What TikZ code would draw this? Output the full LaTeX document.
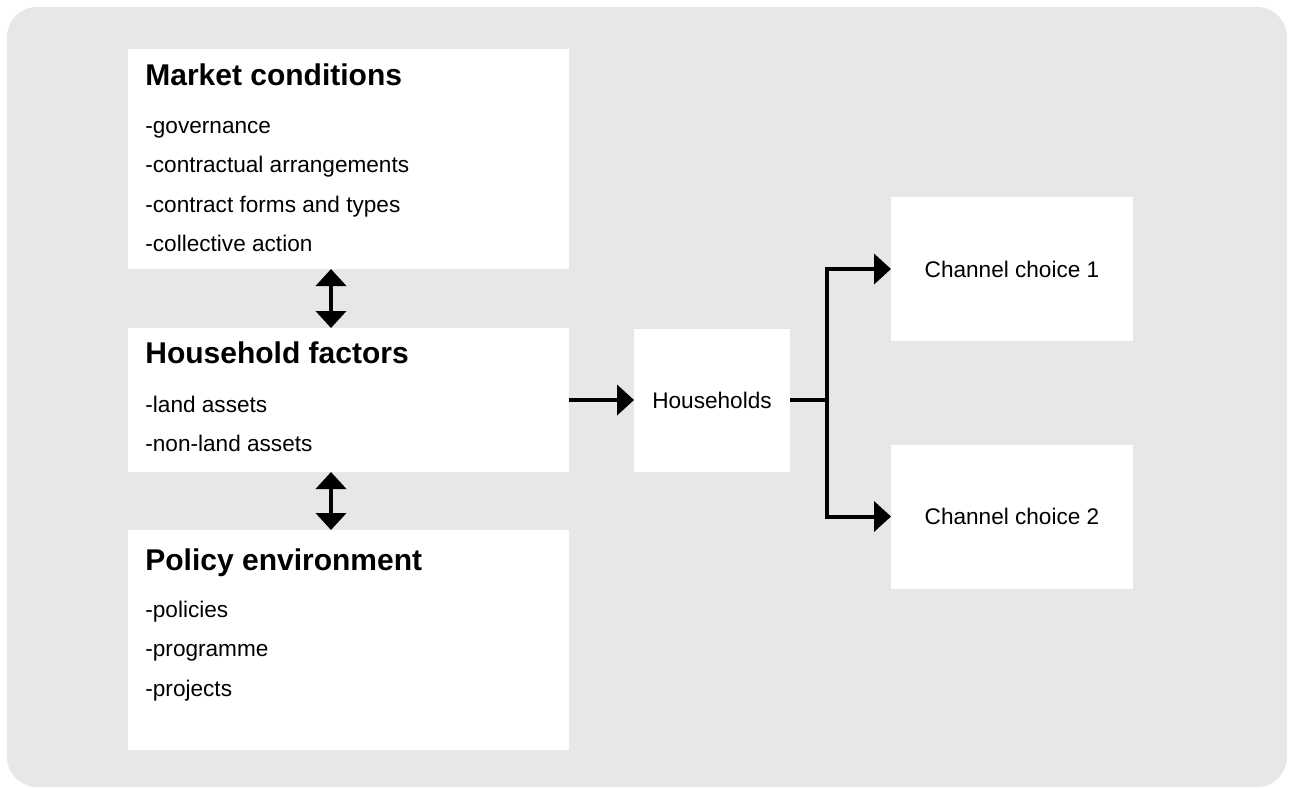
\documentclass[tikz,border=0pt]{standalone}
\usepackage{fontspec}
\setmainfont{Liberation Sans}
\usepackage{tikz}
\usetikzlibrary{calc}
\usetikzlibrary{arrows.meta}
\usetikzlibrary{positioning}
\definecolor{panelgray}{RGB}{230,231,232}
\tikzset{>={Triangle[length=8.5pt,width=15pt]}}
\tikzstyle{box} = [fill = white, inner sep = 0, outer sep = 0, font = \fontsize{11.3}{13}\selectfont]
\tikzstyle{head} = [inner sep = 0, anchor = base west, font = \fontsize{15}{18}\selectfont\bfseries]
\tikzstyle{item} = [inner sep = 0, anchor = base west, font = \fontsize{11.3}{13}\selectfont]
\tikzstyle{flow} = [->, line width = 2pt]

\begin{document}
\begin{tikzpicture}[x = 0.5pt, y = -0.5pt]
\useasboundingbox (0, 0) rectangle (1289, 788);
\fill [panelgray, rounded corners = 15pt] (7, 7) rectangle (1287, 787);
% left column
\node [box, minimum width = 220.5pt, minimum height = 110pt] (market) at (348.5, 159) {};
\node [box, minimum width = 220.5pt, minimum height = 72pt] (household) at (348.5, 400) {};
\node [box, minimum width = 220.5pt, minimum height = 110pt] (policy) at (348.5, 640) {};
\node [head] (marketT) at ($(market.north west) + (17, 36)$) {Market conditions};
\foreach \t [count = \i] in {-governance, -contractual arrangements, -contract forms and types, -collective action}
  \node [item] (market-\i) at ($(market.north west) + (17, 44.5 + 39.5*\i)$) {\t};
\node [head] (householdT) at ($(household.north west) + (17, 35)$) {Household factors};
\foreach \t [count = \i] in {-land assets, -non-land assets}
  \node [item] (household-\i) at ($(household.north west) + (17, 44.5 + 39.5*\i)$) {\t};
\node [head] (policyT) at ($(policy.north west) + (17, 40)$) {Policy environment};
\foreach \t [count = \i] in {-policies, -programme, -projects}
  \node [item] (policy-\i) at ($(policy.north west) + (17, 47.5 + 39.5*\i)$) {\t};
% right side
\node [box, minimum width = 78pt, minimum height = 71.5pt] (households) at (712, 400) {Households};
\node [box, minimum width = 121pt, minimum height = 72pt] (choice1) at (1012, 269) {Channel choice 1};
\node [box, minimum width = 121pt, minimum height = 72pt] (choice2) at (1012, 516.5) {Channel choice 2};
\coordinate (stem) at (331, 0);
\coordinate (split) at ($(households.east) + (37, 0)$);
\draw [<->, line width = 2pt] (market.south -| stem) -- (household.north -| stem);
\draw [<->, line width = 2pt] (household.south -| stem) -- (policy.north -| stem);
\draw [flow] (household.east) -- (households.west);
\draw [flow] (households.east) -- (split) |- (choice1.west);
\draw [flow] (split) |- (choice2.west);
\end{tikzpicture}
\end{document}
